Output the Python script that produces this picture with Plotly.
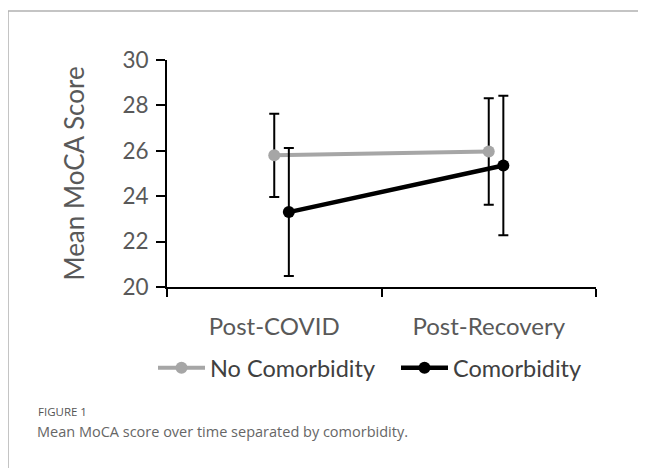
import plotly.graph_objects as go

categories = ["Post-COVID", "Post-Recovery"]
no_comorb_mean = [25.8, 25.97]
no_comorb_err = [1.83, 2.35]
comorb_mean = [23.3, 25.35]
comorb_err = [2.82, 3.07]
series_names = ["No Comorbidity", "Comorbidity"]
y_ticks = [20, 22, 24, 26, 28, 30]

# page body adds an 8px margin; figure is sized so page fills 646x468
OFF = 8
W, H = 646 - OFF, 468 - OFF
L, R, T, B = 167 - OFF, 50, 60 - OFF, 468 - 287
pw, ph = W - L - R, H - T - B

def px_x(p):
    return (p - OFF - L) / pw

def px_y(p):
    return (H - B - (p - OFF)) / ph

idx = list(range(len(categories)))
offset = 0.068

fig = go.Figure()
fig.add_trace(go.Scatter(
    x=idx, y=no_comorb_mean, name=series_names[0], mode="lines+markers",
    line=dict(color="#a6a6a6", width=4), marker=dict(color="#a6a6a6", size=12),
    error_y=dict(type="data", array=no_comorb_err, color="black", thickness=2, width=5),
))
fig.add_trace(go.Scatter(
    x=[i + offset for i in idx], y=comorb_mean, name=series_names[1], mode="lines+markers",
    line=dict(color="black", width=4.5), marker=dict(color="black", size=12),
    error_y=dict(type="data", array=comorb_err, color="black", thickness=2, width=5),
))

font_fam = "Lato, 'Open Sans', sans-serif"
fig.update_layout(
    width=W, height=H,
    margin=dict(l=L, r=R, t=T, b=B),
    paper_bgcolor="white", plot_bgcolor="white",
    font=dict(family=font_fam, color="#595959", size=22),
    showlegend=True,
    legend=dict(orientation="h", x=px_x(153), xanchor="left", y=px_y(368), yanchor="middle",
                font=dict(size=23.5, color="#404040"), itemwidth=47, traceorder="normal",
                entrywidth=181, entrywidthmode="pixels",
                bgcolor="rgba(0,0,0,0)"),
    xaxis=dict(range=[-0.5, 1.5], tickvals=[-0.5, 0.5, 1.5], ticktext=["", "", ""],
               ticks="outside", ticklen=8, tickwidth=2, tickcolor="black",
               showline=True, linecolor="black", linewidth=2, showgrid=False, zeroline=False),
    xaxis2=dict(overlaying="x", matches="x", side="bottom", tickvals=idx, ticktext=categories,
                ticks="", showline=False, showgrid=False, zeroline=False,
                ticklabelstandoff=23, tickfont=dict(size=24, color="#595959")),
    yaxis=dict(range=[20, 30], tickvals=y_ticks, ticks="outside", ticklen=9, tickwidth=2,
               tickcolor="black", showline=True, linecolor="black", linewidth=2,
               showgrid=False, zeroline=False, ticklabelstandoff=3,
               tickfont=dict(size=22.5, color="#595959"),
               title=dict(text="Mean MoCA Score", standoff=30, font=dict(size=26, color="#595959"))),
)
fig.add_trace(go.Scatter(x=idx, y=[None, None], xaxis="x2", showlegend=False, hoverinfo="skip"))

# frame
fig.add_shape(type="line", xref="paper", yref="paper", x0=px_x(8), x1=px_x(660),
              y0=px_y(11), y1=px_y(11), line=dict(color="#b0b0b0", width=1.5))
fig.add_shape(type="line", xref="paper", yref="paper", x0=px_x(8), x1=px_x(8),
              y0=px_y(11), y1=px_y(480), line=dict(color="#b0b0b0", width=1.5))

fig.add_annotation(text="FIGURE 1", xref="paper", yref="paper", x=px_x(36), y=px_y(411),
                   xanchor="left", yanchor="middle", showarrow=False,
                   font=dict(size=11.5, color="#555555", family="'Open Sans', sans-serif"))
fig.add_annotation(text="Mean MoCA score over time separated by comorbidity.", xref="paper",
                   yref="paper", x=px_x(35), y=px_y(431), xanchor="left", yanchor="middle",
                   showarrow=False, font=dict(size=14.5, color="#666666", family="'Open Sans', sans-serif"))

fig.write_html("out.html")
